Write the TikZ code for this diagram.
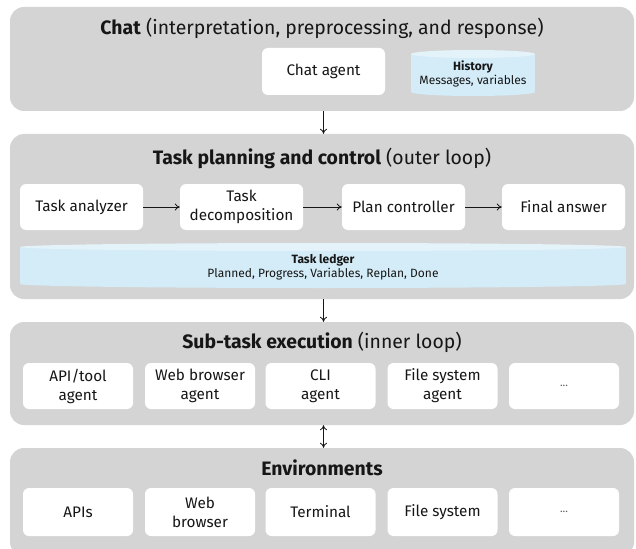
\documentclass[tikz,border=0pt]{standalone}
\usepackage{fontspec}
\setmainfont{Fira Sans}
\usetikzlibrary{arrows.meta}
\definecolor{panelgray}{HTML}{D4D4D4}
\definecolor{ledgerblue}{HTML}{D3ECF8}
\definecolor{ledgertop}{HTML}{E4F3FA}
\definecolor{txt}{HTML}{161616}
\begin{document}
\begin{tikzpicture}[x=1pt,y=-1pt,
  panel/.style={fill=panelgray, rounded corners=14pt, minimum width=624pt, inner sep=0pt},
  box/.style={fill=white, rounded corners=6pt, inner sep=0pt, align=center, font=\fontsize{15.3}{19}\selectfont, text=txt},
  wbox/.style={box, minimum width=123pt, minimum height=46pt},
  nbox/.style={box, minimum width=110pt},
  ttl/.style={font=\fontsize{19.4}{22}\selectfont, text=txt},
  small/.style={font=\fontsize{12}{14.5}\selectfont, text=txt, align=center, inner sep=0pt},
  dots/.style={font=\fontsize{11}{13}\selectfont, text=txt!70},
  arr/.style={-{To[length=5pt,width=7pt]}, line width=0.8pt, draw=txt},
  darr/.style={{To[length=5pt,width=7pt]}-{To[length=5pt,width=7pt]}, line width=0.8pt, draw=txt}]
\useasboundingbox (0,0) rectangle (636,548);
\clip (0,0) rectangle (636,548);
\fill[white] (0,0) rectangle (636,548);

% panels
\node[panel, minimum height=104pt] (chat) at (322,59) {};
\node[panel, minimum height=165pt] (task) at (322,216.5) {};
\node[panel, minimum height=103pt] (sub) at (322,373.5) {};
\node[panel, minimum height=108pt] (env) at (322,502) {};

% titles
\node[ttl] (chatttl) at (322,28) {\textbf{Chat} (interpretation, preprocessing, and response)};
\node[ttl] (taskttl) at (322,158) {\textbf{Task planning and control} (outer loop)};
\node[ttl] (subttl) at (322,342) {\textbf{Sub-task execution} (inner loop)};
\node[ttl] (envttl) at (322,468) {\textbf{Environments}};

% chat row
\node[wbox, minimum height=47pt] (chatagent) at (323.5,71.5) {Chat agent};
\fill[ledgerblue] (411,54) rectangle (535,92);
\fill[ledgerblue] (473,92) ellipse [x radius=62, y radius=4];
\fill[ledgertop] (473,54) ellipse [x radius=62, y radius=4];
\node[small] (hist) at (473,74) {\textbf{History}\\Messages, variables};

% task row
\node[wbox] (analyzer) at (81.5,207) {Task analyzer};
\node[wbox] (decomp) at (241.5,207) {Task\\decomposition};
\node[wbox] (plan) at (403.5,207) {Plan controller};
\node[wbox] (final) at (563.5,207) {Final answer};
\draw[arr] (analyzer) -- (decomp);
\draw[arr] (decomp) -- (plan);
\draw[arr] (plan) -- (final);

% ledger
\fill[ledgerblue] (20,247) rectangle (626,284);
\fill[ledgerblue] (323,284) ellipse [x radius=303, y radius=4];
\fill[ledgertop] (323,247) ellipse [x radius=303, y radius=4];
\node[small] (ledger) at (323,267) {\textbf{Task ledger}\\Planned, Progress, Variables, Replan, Done};

% sub-task row
\node[nbox, minimum height=46pt] (apiagent) at (78,386) {API/tool\\agent};
\node[nbox, minimum height=46pt] (webagent) at (200,386) {Web browser\\agent};
\node[nbox, minimum height=46pt] (cliagent) at (320.5,386) {CLI\\agent};
\node[nbox, minimum height=46pt] (fsagent) at (442.5,386) {File system\\agent};
\node[nbox, minimum height=46pt] (moreagent) at (564,386) {};
\node[dots] (moreagentdots) at (564,386) {...};

% environments row
\node[nbox, minimum height=48pt] (apis) at (78,512) {APIs};
\node[nbox, minimum height=48pt] (web) at (200,512) {Web\\browser};
\node[nbox, minimum height=48pt] (term) at (320.5,512) {Terminal};
\node[nbox, minimum height=48pt] (fs) at (442.5,512) {File system};
\node[nbox, minimum height=48pt] (moreenv) at (564,512) {};
\node[dots] (moreenvdots) at (564,512) {...};

% vertical connectors
\draw[arr] (chat.south -| chatagent) -- (task.north -| chatagent);
\draw[arr] (task.south -| chatagent) -- (sub.north -| chatagent);
\draw[darr] (sub.south -| chatagent) -- (env.north -| chatagent);
\end{tikzpicture}
\end{document}
